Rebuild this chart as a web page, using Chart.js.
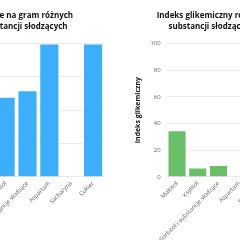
<!DOCTYPE html>
<html>
<head>
<meta charset="utf-8">
<script src="https://cdn.jsdelivr.net/npm/chart.js@4.4.0/dist/chart.umd.min.js"></script>
<style>
  html, body { margin: 0; padding: 0; background: #fff; overflow: hidden; width: 240px; height: 240px; }
  #wrap { position: absolute; left: -55px; top: 0; display: flex; gap: 15px; }
  .box { width: 172px; height: 246px; }
</style>
</head>
<body>
<div id="wrap">
  <div class="box"><canvas id="calories-chart" width="172" height="246"></canvas></div>
  <div class="box"><canvas id="glycemic-chart" width="172" height="246"></canvas></div>
</div>
<script>
// Sweeteners shown on both charts
const categories = ['Maltitol', 'Ksylitol', 'Sorbitol i substancje słodzące', 'Aspartam', 'Sacharyna', 'Cukier'];
// kcal per gram
const caloriesValues = [2.1, 2.4, 2.6, 4, 0, 4];
// glycemic index
const glycemicValues = [35, 7, 9, 0, 0, 65];

const caloriesTicks = [0, 1, 2, 3, 4];
const glycemicTicks = [0, 20, 40, 60, 80, 100];

Chart.defaults.font.family = '"Open Sans", sans-serif';
Chart.defaults.color = '#666';

function makeChart(id, title, yTitle, values, ticks, color) {
  const ctx = document.getElementById(id).getContext('2d');
  return new Chart(ctx, {
    type: 'bar',
    data: {
      labels: categories,
      datasets: [{
        label: yTitle,
        data: values,
        backgroundColor: color,
        borderColor: 'rgba(255,255,255,0.25)',
        borderWidth: 1,
        barPercentage: 0.95,
        categoryPercentage: 0.97
      }]
    },
    options: {
      responsive: false,
      animation: false,
      devicePixelRatio: 1,
      layout: { padding: { right: 13 } },
      plugins: {
        legend: { display: false },
        tooltip: { enabled: false },
        title: {
          display: true,
          text: title,
          color: '#111',
          font: { size: 8, weight: 'bold', lineHeight: 1.4 },
          padding: { top: 10, bottom: 11 }
        }
      },
      scales: {
        x: {
          grid: { display: false, drawTicks: false },
          border: { display: false },
          ticks: { font: { size: 6 }, minRotation: 45, maxRotation: 45, autoSkip: false, padding: 3 }
        },
        y: {
          min: ticks[0],
          max: ticks[ticks.length - 1],
          afterBuildTicks: function(axis) { axis.ticks = ticks.map(v => ({ value: v })); },
          border: { display: false },
          grid: { color: '#ececec', drawTicks: false },
          ticks: { font: { size: 6 }, padding: 6 },
          title: {
            display: true,
            text: yTitle,
            color: '#111',
            font: { size: 7, weight: 'bold' },
            padding: { top: 2, bottom: 2 }
          }
        }
      }
    }
  });
}

makeChart('calories-chart', ['Kalorie na gram różnych', 'substancji słodzących'], 'Kalorie na gram', caloriesValues, caloriesTicks, '#3daffa');
makeChart('glycemic-chart', ['Indeks glikemiczny różnych', 'substancji słodzących'], 'Indeks glikemiczny', glycemicValues, glycemicTicks, '#6abf69');
</script>
</body>
</html>
